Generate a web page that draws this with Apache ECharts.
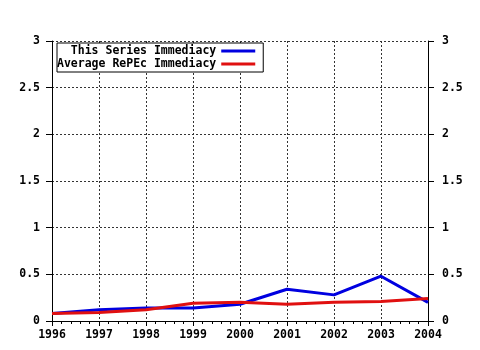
<!DOCTYPE html>
<html>
<head>
<meta charset="UTF-8">
<script src="https://cdn.jsdelivr.net/npm/echarts@6/dist/echarts.min.js"></script>
<style>
  html, body { margin: 0; padding: 0; background: #fff; }
  #chart { width: 480px; height: 350px; }
</style>
</head>
<body>
<div id="chart"></div>
<script>
// data
var years = [1996, 1997, 1998, 1999, 2000, 2001, 2002, 2003, 2004];
var seriesImmediacy = [0.08, 0.12, 0.14, 0.14, 0.18, 0.34, 0.28, 0.48, 0.20];
var repecImmediacy = [0.08, 0.09, 0.12, 0.19, 0.20, 0.18, 0.20, 0.21, 0.24];

function pairs(vals) {
    return years.map(function (y, i) { return [y, vals[i]]; });
}

var mono = { fontFamily: 'DejaVu Sans Mono', fontWeight: 'bold', fontSize: 11.5, color: '#000' };
var axisLine = { show: true, lineStyle: { color: '#000', width: 1 } };
var dotted = { show: true, lineStyle: { color: '#333', type: [2, 2], width: 1 } };

var myChart = echarts.init(document.getElementById('chart'));
var option = {
    animation: false,
    grid: { left: 52, right: 52, top: 41, bottom: 29 },
    legend: {
        orient: 'vertical',
        align: 'right',
        left: 57,
        top: 43,
        padding: [2, 8, 2, 0],
        itemGap: 1,
        itemWidth: 34,
        itemHeight: 3,
        borderColor: '#000',
        borderWidth: 1,
        backgroundColor: '#fff',
        icon: 'rect',
        textStyle: mono,
        data: ['This Series Immediacy', 'Average RePEc Immediacy']
    },
    xAxis: [
        {
            type: 'value', min: 1996, max: 2004, interval: 1,
            axisLine: axisLine,
            axisTick: { show: true, length: 5, lineStyle: { color: '#000' } },
            minorTick: { show: true, splitNumber: 5, length: 3, lineStyle: { color: '#000' } },
            axisLabel: Object.assign({ margin: 8, formatter: function (v) { return String(v); } }, mono),
            splitLine: dotted
        },
        {
            type: 'value', position: 'top', min: 1996, max: 2004, interval: 1,
            axisLine: axisLine,
            axisTick: { show: true, inside: true, length: 5, lineStyle: { color: '#000' } },
            minorTick: { show: true, splitNumber: 5, length: 3, lineStyle: { color: '#000' } },
            axisLabel: { show: false },
            splitLine: { show: false }
        }
    ],
    yAxis: [
        {
            type: 'value', min: 0, max: 3, interval: 0.5, position: 'left',
            axisLine: axisLine,
            axisTick: { show: true, length: 6, lineStyle: { color: '#000' } },
            axisLabel: Object.assign({ margin: 12 }, mono),
            splitLine: dotted
        },
        {
            type: 'value', min: 0, max: 3, interval: 0.5, position: 'right',
            axisLine: axisLine,
            axisTick: { show: true, length: 6, lineStyle: { color: '#000' } },
            axisLabel: Object.assign({ margin: 14 }, mono),
            splitLine: { show: false }
        }
    ],
    series: [
        {
            name: 'This Series Immediacy',
            type: 'line',
            showSymbol: false,
            color: '#0000e0',
            lineStyle: { width: 3 },
            data: pairs(seriesImmediacy)
        },
        {
            name: 'Average RePEc Immediacy',
            type: 'line',
            showSymbol: false,
            color: '#e01010',
            lineStyle: { width: 3 },
            data: pairs(repecImmediacy)
        }
    ]
};
myChart.setOption(option);
</script>
</body>
</html>
